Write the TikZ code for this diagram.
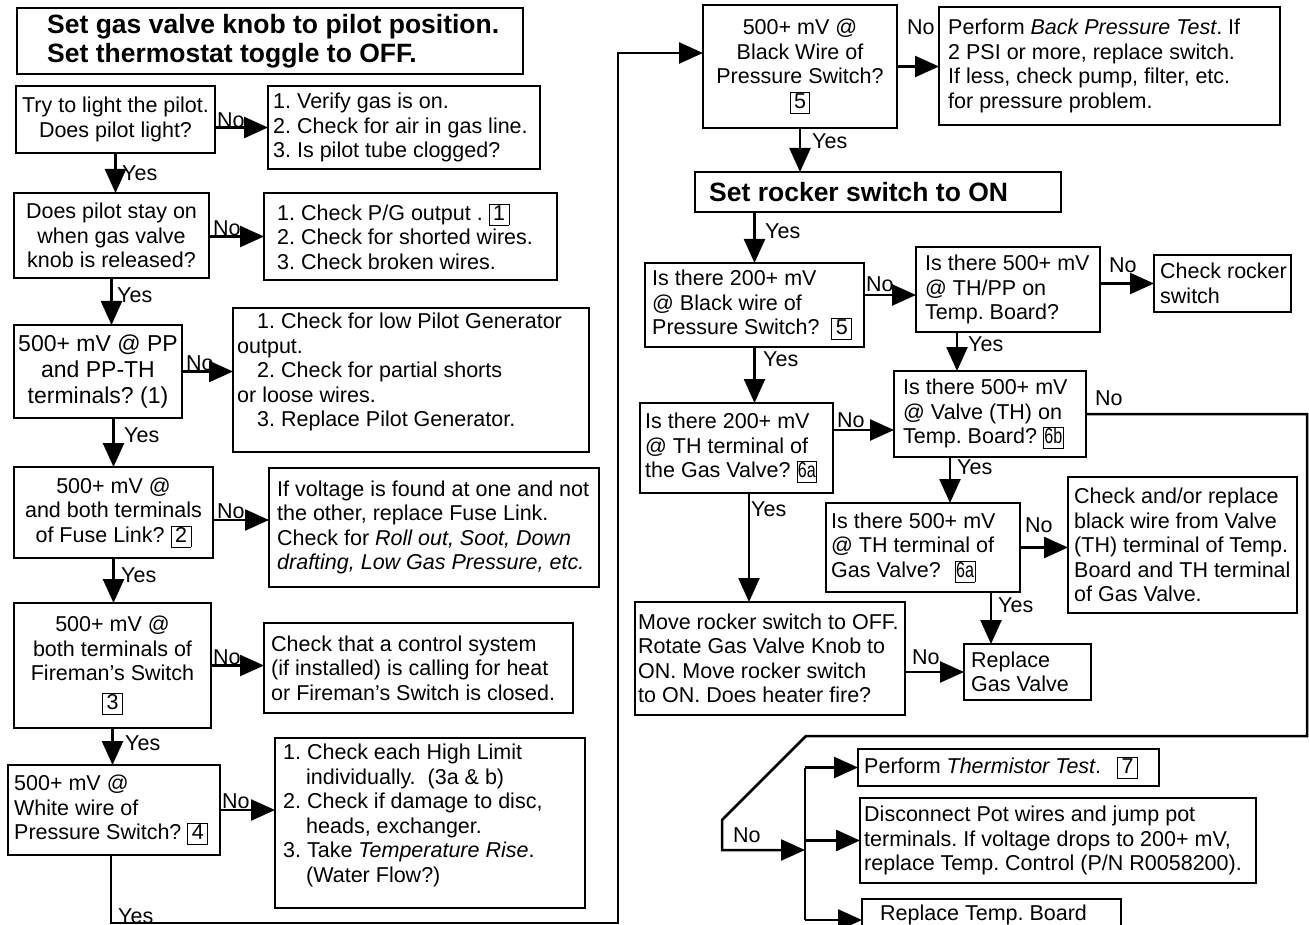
\documentclass[tikz,border=0pt]{standalone}
\usepackage{fontspec}
\setmainfont{Liberation Sans}
\usetikzlibrary{arrows.meta,calc}
\newcommand\nb[1]{{\fboxsep=0pt\fboxrule=0.9pt\fbox{\rule[-4.5pt]{0pt}{20pt}\hspace{3.5pt}#1\hspace{3.5pt}}}}
\newcommand\nbs[1]{{\fboxsep=0pt\fboxrule=0.9pt\fbox{\rule[-4.5pt]{0pt}{20pt}\hspace{0.5pt}\scalebox{0.75}[1]{#1}\hspace{0.5pt}}}}
\tikzset{
  box/.style={draw, line width=2.5pt, anchor=north west, inner sep=0pt, outer sep=0pt},
  txt/.style={inner sep=0pt, font=\frenchspacing\fontsize{21.5}{24.5}\selectfont},
  lt/.style={txt, align=left, anchor=west},
  ct/.style={txt, align=center},
  lbl/.style={inner sep=0pt, anchor=base west, font=\fontsize{21.5}{24.5}\selectfont},
  arr/.style={line width=2.5pt, line join=miter, -{Triangle[length=24pt,width=21pt]}},
  ln/.style={line width=2.5pt},
  ttl/.style={inner sep=0pt, align=left, anchor=west, font=\frenchspacing\bfseries\fontsize{26.5}{29}\selectfont}
}
\begin{document}
\frenchspacing
\begin{tikzpicture}[x=1pt,y=-1pt]
\useasboundingbox (0,0) rectangle (1309,925);
\clip (0,0) rectangle (1309,925);
% ---------- boxes, left column ----------
\node[box, minimum width=506pt, minimum height=66pt] (T) at (17,8) {};
\node[ttl] at ($(T.west)+(30,0)$) {Set gas valve knob to pilot position.\\Set thermostat toggle to OFF.};
\node[box, minimum width=199pt, minimum height=67pt] (A) at (16,86) {};
\node[ct] at (A.center) {Try to light the pilot.\\Does pilot light?};
\node[box, minimum width=272pt, minimum height=83pt] (Av) at (268,86) {};
\node[lt] at ($(Av.west)+(5,0)$) {1. Verify gas is on.\\2. Check for air in gas line.\\3. Is pilot tube clogged?};
\node[box, minimum width=195pt, minimum height=85pt] (B) at (14,193) {};
\node[ct] at (B.center) {Does pilot stay on\\when gas valve\\knob is released?};
\node[box, minimum width=293pt, minimum height=87pt] (Bno) at (264,193) {};
\node[lt] at ($(Bno.west)+(13,0)$) {1. Check P/G output . \nb{1}\\2. Check for shorted wires.\\3. Check broken wires.};
\node[box, minimum width=168pt, minimum height=93pt] (C) at (14,325) {};
\node[ct, font=\frenchspacing\fontsize{23}{26}\selectfont] at (C.center) {500+ mV @ PP\\and PP-TH\\terminals? (1)};
\node[box, minimum width=356pt, minimum height=144pt] (Cno) at (233,308) {};
\node[txt, align=left, anchor=north west] at (237,313) {\hspace*{20pt}1. Check for low Pilot Generator\\output.\\\hspace*{20pt}2. Check for partial shorts\\or loose wires.\\\hspace*{20pt}3. Replace Pilot Generator.};
\node[box, minimum width=199pt, minimum height=91pt] (D) at (14,467) {};
\node[ct] at (D.center) {500+ mV @\\and both terminals\\of Fuse Link? \nb{2}};
\node[box, minimum width=330pt, minimum height=119pt] (Dno) at (269,468) {};
\node[lt] at ($(Dno.west)+(8,0)$) {If voltage is found at one and not\\the other, replace Fuse Link.\\Check for \textit{Roll out, Soot, Down}\\\textit{drafting, Low Gas Pressure, etc.}};
\node[box, minimum width=197pt, minimum height=125pt] (E) at (14,603) {};
\node[ct] at (E.center) {500+ mV @\\both terminals of\\Fireman’s Switch\\[4pt]\nb{3}};
\node[box, minimum width=309pt, minimum height=90pt] (Eno) at (264,623) {};
\node[lt] at ($(Eno.west)+(7,0)$) {Check that a control system\\(if installed) is calling for heat\\or Fireman’s Switch is closed.};
\node[box, minimum width=212pt, minimum height=90pt] (F) at (8,765) {};
\node[lt] at ($(F.west)+(6,0)$) {500+ mV @\\White wire of\\Pressure Switch? \nb{4}};
\node[box, minimum width=310pt, minimum height=170pt] (Fno) at (275,738) {};
\node[txt, align=left, anchor=north west] at (283,744) {1. Check each High Limit\\\hspace*{23pt}individually.\ \ (3a \& b)\\2. Check if damage to disc,\\\hspace*{23pt}heads, exchanger.\\3. Take \textit{Temperature Rise}.\\\hspace*{23pt}(Water Flow?)};
% ---------- boxes, right part ----------
\node[box, minimum width=194pt, minimum height=123pt] (G) at (703,5) {};
\node[ct] at (G.center) {500+ mV @\\Black Wire of\\Pressure Switch?\\\nb{5}};
\node[box, minimum width=341pt, minimum height=118pt] (Gno) at (939,7) {};
\node[lt] at ($(Gno.west)+(9,0)$) {Perform \textit{Back Pressure Test}. If\\2 PSI or more, replace switch.\\If less, check pump, filter, etc.\\for pressure problem.};
\node[box, minimum width=366pt, minimum height=40pt] (Rk) at (695,172) {};
\node[ttl] at ($(Rk.west)+(14,0)$) {Set rocker switch to ON};
\node[box, minimum width=219pt, minimum height=84pt] (H) at (645,263) {};
\node[lt] at ($(H.west)+(7,0)$) {Is there 200+ mV\\@ Black wire of\\Pressure Switch?\ \ \nb{5}};
\node[box, minimum width=184pt, minimum height=85pt] (I) at (916,247) {};
\node[lt] at ($(I.west)+(9,0)$) {Is there 500+ mV\\@ TH/PP on\\Temp. Board?};
\node[box, minimum width=137pt, minimum height=57pt] (Irk) at (1154,255) {};
\node[lt] at ($(Irk.west)+(6,0)$) {Check rocker\\switch};
\node[box, minimum width=193pt, minimum height=90pt] (J) at (640,403) {};
\node[lt] at ($(J.west)+(5,0)$) {Is there 200+ mV\\@ TH terminal of\\the Gas Valve? \nbs{6a}};
\node[box, minimum width=192pt, minimum height=86pt] (K) at (894,371) {};
\node[lt] at ($(K.west)+(9,0)$) {Is there 500+ mV\\@ Valve (TH) on\\Temp. Board?\ \nbs{6b}};
\node[box, minimum width=194pt, minimum height=89pt] (L) at (826,503) {};
\node[lt] at ($(L.west)+(5,0)$) {Is there 500+ mV\\@ TH terminal of\\Gas Valve?\hspace{14pt}\nbs{6a}};
\node[box, minimum width=229pt, minimum height=136pt] (M) at (1068,477) {};
\node[lt] at ($(M.west)+(6,0)$) {Check and/or replace\\black wire from Valve\\(TH) terminal of Temp.\\Board and TH terminal\\of Gas Valve.};
\node[box, minimum width=127pt, minimum height=56pt] (N) at (964,644) {};
\node[lt] at ($(N.west)+(7,0)$) {Replace\\Gas Valve};
\node[box, minimum width=270pt, minimum height=113pt] (O) at (635,602) {};
\node[lt] at ($(O.west)+(3,0)$) {Move rocker switch to OFF.\\Rotate Gas Valve Knob to\\ON. Move rocker switch\\to ON. Does heater fire?};
\node[box, minimum width=301pt, minimum height=37pt] (P) at (858,749) {};
\node[lt] at ($(P.west)+(6,0)$) {Perform \textit{Thermistor Test}.\hspace{16pt}\nb{7}};
\node[box, minimum width=396pt, minimum height=85pt] (Q) at (860,798) {};
\node[lt] at ($(Q.west)+(4,0)$) {Disconnect Pot wires and jump pot\\terminals. If voltage drops to 200+ mV,\\replace Temp. Control (P/N R0058200).};
\node[box, minimum width=259pt, minimum height=42pt] (R) at (862,899) {};
\node[txt, anchor=base west] at (880,920.5) {Replace Temp. Board};
% ---------- connectors, left ----------
\draw[arr] (A.east|-Av.west) -- (Av.west);
\node[lbl] at (217,128) {No};
\draw[arr] (A.south) -- (A.south|-B.north);
\node[lbl] at (122,181) {Yes};
\draw[arr] (B.east|-Bno.west) -- (Bno.west);
\node[lbl] at (213,236) {No};
\draw[arr] (B.south) -- (B.south|-C.north);
\node[lbl] at (117,302) {Yes};
\draw[arr] (C.east) -- (C.east-|Cno.west);
\node[lbl] at (186,370) {No};
\draw[arr] (D.north|-C.south) -- (D.north);
\node[lbl] at (124,442) {Yes};
\coordinate (dd) at ($(D.east)+(0,7.5)$);
\draw[arr] (dd) -- (dd-|Dno.west);
\node[lbl] at (217,518) {No};
\draw[arr] (D.south) -- (D.south|-E.north);
\node[lbl] at (121,582) {Yes};
\draw[arr] (E.east) -- (E.east-|Eno.west);
\node[lbl] at (213,664) {No};
\draw[arr] (E.south) -- (E.south|-F.north);
\node[lbl] at (125,750) {Yes};
\draw[arr] (F.east) -- (F.east-|Fno.west);
\node[lbl] at (222,808) {No};
\coordinate (b1) at (111,923);
\coordinate (b2) at (618,923);
\coordinate (b3) at (618,53);
\draw[arr] (F.south-|b1) -- (b1) -- (b2) -- (b3) -- (b3-|G.west);
\node[lbl] at (118,923) {Yes};
% ---------- connectors, right ----------
\draw[arr] (G.east) -- (G.east-|Gno.west);
\node[lbl] at (907,35) {No};
\draw[arr] (G.south) -- (G.south|-Rk.north);
\node[lbl] at (812,149) {Yes};
\draw[arr] (H.north|-Rk.south) -- (H.north);
\node[lbl] at (765,239) {Yes};
\coordinate (hi) at ($(I.west)+(0,5.5)$);
\draw[arr] (hi-|H.east) -- (hi);
\node[lbl] at (866,292) {No};
\draw[arr] (I.east|-Irk.west) -- (Irk.west);
\node[lbl] at (1109,273) {No};
\coordinate (ik) at ($(I.south west)+(41,0)$);
\draw[arr] (ik) -- (ik|-K.north);
\node[lbl] at (968,351) {Yes};
\draw[arr] (H.south) -- (H.south|-J.north);
\node[lbl] at (763,366) {Yes};
\coordinate (jk) at ($(K.west)+(0,16)$);
\draw[arr] (jk-|J.east) -- (jk);
\node[lbl] at (837,427) {No};
\coordinate (kl) at ($(K.south west)+(56,0)$);
\draw[arr] (kl) -- (kl|-L.north);
\node[lbl] at (957,474) {Yes};
\draw[arr] (L.east) -- (L.east-|M.west);
\node[lbl] at (1025,532) {No};
\coordinate (lnn) at ($(L.south west)+(165,0)$);
\draw[arr] (lnn) -- (lnn|-N.north);
\node[lbl] at (998,612) {Yes};
\coordinate (jo) at ($(J.south west)+(109,0)$);
\draw[arr] (jo) -- (jo|-O.north);
\node[lbl] at (751,516) {Yes};
\draw[arr] (O.east|-N.west) -- (N.west);
\node[lbl] at (912,664) {No};
\coordinate (c1) at (1307,736);
\coordinate (c2) at (806,736);
\coordinate (c3) at (722,820);
\coordinate (c4) at (722,850);
\coordinate (jn) at (805,850);
\draw[arr] (K.east) -- (K.east-|c1) -- (c1) -- (c2) -- (c3) -- (c4) -- (jn);
\node[lbl] at (1095,405) {No};
\node[lbl] at (733,842) {No};
\draw[ln] (jn|-P.west) -- (jn|-R.west);
\draw[arr] (jn|-P.west) -- (P.west);
\draw[arr] (jn|-Q.west) -- (Q.west);
\draw[arr] (jn|-R.west) -- (R.west);
\end{tikzpicture}
\end{document}
